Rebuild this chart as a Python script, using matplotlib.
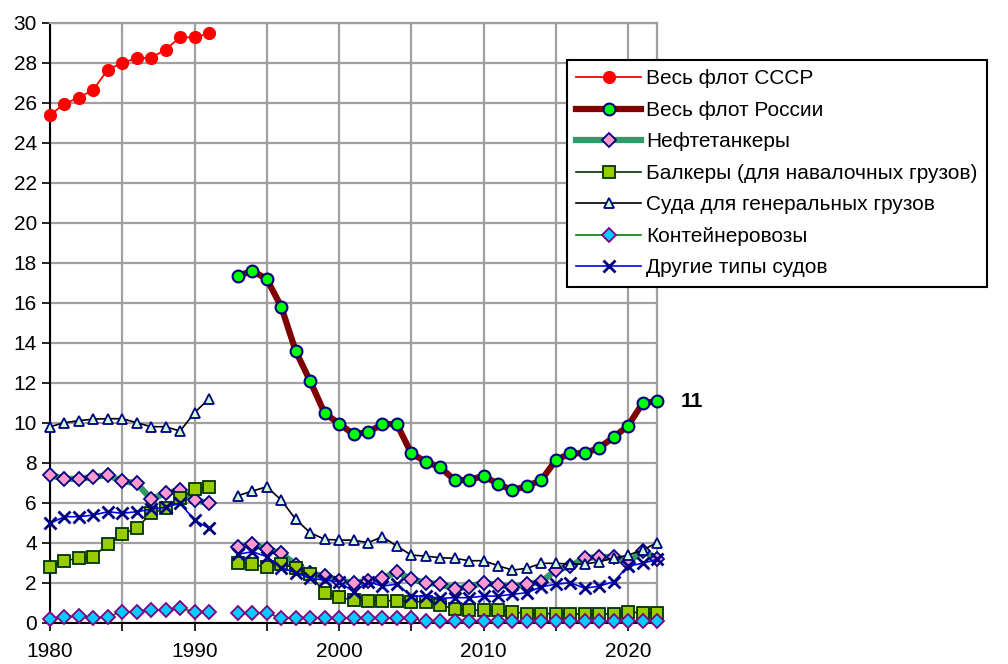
import numpy as np
import matplotlib
matplotlib.use('Agg')
import matplotlib.pyplot as plt
from matplotlib.ticker import MultipleLocator

plt.rcParams['font.family'] = ['Liberation Sans', 'DejaVu Sans']

nan = np.nan

years = list(range(1980, 2023))
years_ussr = list(range(1980, 1992))
years_russia = list(range(1993, 2023))

ussr_total = [25.37, 25.96, 26.25, 26.65, 27.66, 27.98, 28.24, 28.24, 28.66, 29.27, 29.27, 29.47]

russia_total = [17.33, 17.6, 17.18, 15.8, 13.58, 12.08, 10.48,
                9.95, 9.43, 9.52, 9.93, 9.93, 8.47, 8.05, 7.77, 7.13, 7.13,
                7.35, 6.93, 6.63, 6.83, 7.13, 8.13, 8.47, 8.47, 8.75, 9.27,
                9.85, 10.97, 11.08]

tankers = [7.37, 7.2, 7.18, 7.3, 7.37, 7.08, 6.97, 6.18, 6.47, 6.63, 6.13, 5.97,
           nan,
           3.8, 3.92, 3.68, 3.47, 2.9, 2.47, 2.33,
           2.1, 2.0, 2.08, 2.22, 2.55, 2.17, 2.0, 1.92, 1.7, 1.8,
           2.0, 1.88, 1.8, 1.92, 2.05, 2.63, 2.82, 3.25, 3.27, 3.3,
           3.0, 3.6, 3.2]

bulk = [2.8, 3.1, 3.22, 3.3, 3.93, 4.43, 4.73, 5.47, 5.72, 6.22, 6.67, 6.77,
        nan,
        3.0, 2.92, 2.77, 2.93, 2.72, 2.45, 1.47,
        1.27, 1.13, 1.1, 1.1, 1.1, 1.05, 1.05, 0.88, 0.7, 0.63,
        0.63, 0.63, 0.55, 0.45, 0.45, 0.45, 0.45, 0.43, 0.43, 0.45,
        0.55, 0.48, 0.48]

general = [9.8, 10.0, 10.1, 10.18, 10.2, 10.2, 10.0, 9.8, 9.8, 9.58, 10.5, 11.2,
           nan,
           6.35, 6.58, 6.8, 6.13, 5.17, 4.5, 4.17,
           4.13, 4.13, 4.0, 4.3, 3.83, 3.38, 3.33, 3.25, 3.22, 3.1,
           3.1, 2.85, 2.63, 2.72, 2.97, 2.97, 2.93, 2.93, 3.05, 3.22,
           3.38, 3.63, 4.0]

container = [0.17, 0.27, 0.35, 0.22, 0.3, 0.55, 0.55, 0.63, 0.63, 0.72, 0.55, 0.55,
             nan,
             0.47, 0.47, 0.47, 0.25, 0.25, 0.25, 0.25,
             0.23, 0.23, 0.23, 0.23, 0.23, 0.23, 0.07, 0.07, 0.07, 0.07,
             0.07, 0.07, 0.07, 0.07, 0.07, 0.07, 0.07, 0.07, 0.07, 0.07,
             0.1, 0.1, 0.1]

other = [4.97, 5.3, 5.3, 5.38, 5.55, 5.47, 5.55, 5.67, 5.77, 5.97, 5.13, 4.72,
         nan,
         3.42, 3.55, 3.3, 2.75, 2.5, 2.22, 2.13,
         2.05, 1.55, 2.05, 1.83, 1.93, 1.33, 1.33, 1.22, 1.25, 1.25,
         1.33, 1.33, 1.42, 1.5, 1.8, 1.92, 2.0, 1.72, 1.83, 2.05,
         2.83, 2.97, 3.17]

labels = ['Весь флот СССР', 'Весь флот России', 'Нефтетанкеры',
          'Балкеры (для навалочных грузов)', 'Суда для генеральных грузов',
          'Контейнеровозы', 'Другие типы судов']

fig = plt.figure(figsize=(10.08, 6.64), dpi=100)
ax = fig.add_axes([50 / 1008, 1 - 622.7 / 664, 607 / 1008, 600 / 664])

ax.plot(years_ussr, ussr_total, color='#FF0000', lw=1.3, marker='o', ms=8.5,
        mfc='#FF0000', mec='#FF0000', label=labels[0], clip_on=False, zorder=3)
ax.plot(years_russia, russia_total, color='#800000', lw=4.5, marker='o', ms=8.5,
        mfc='#00FF00', mec='#000080', mew=1.5, label=labels[1], clip_on=False, zorder=3)
ax.plot(years, tankers, color='#339966', lw=4.5, marker='D', ms=7.5,
        mfc='#FF99CC', mec='#000080', mew=1.3, label=labels[2], clip_on=False, zorder=3)
ax.plot(years, bulk, color='#003300', lw=1.2, marker='s', ms=8,
        mfc='#99CC00', mec='#003300', mew=1.3, label=labels[3], clip_on=False, zorder=3)
ax.plot(years, general, color='#000000', lw=1.2, marker='^', ms=7.5,
        mfc='#CCFFCC', mec='#000080', mew=1.3, label=labels[4], clip_on=False, zorder=3)
ax.plot(years, container, color='#008000', lw=1.2, marker='D', ms=7.5,
        mfc='#00CCFF', mec='#800080', mew=1.3, label=labels[5], clip_on=False, zorder=3)
ax.plot(years, other, color='#0000FF', lw=1.2, marker='x', ms=8,
        mec='#000080', mew=2, label=labels[6], clip_on=False, zorder=3)

ax.annotate('11', (years_russia[-1], russia_total[-1]), xytext=(35, 0),
            textcoords='offset pixels', ha='center', va='center',
            fontsize=15, fontweight='bold')

ax.set_xlim(1980, 2022)
ax.set_ylim(0, 30)
ax.xaxis.set_major_locator(MultipleLocator(10))
ax.xaxis.set_minor_locator(MultipleLocator(5))
ax.yaxis.set_major_locator(MultipleLocator(2))
ax.grid(True, which='both', color='#A0A0A0', lw=1.6, zorder=0)
ax.set_axisbelow(True)
ax.tick_params(axis='both', which='both', direction='out', length=6, width=1.2,
               labelsize=15, color='black')
ax.tick_params(axis='x', pad=8)
for side in ['top', 'right']:
    ax.spines[side].set_color('#A0A0A0')
    ax.spines[side].set_linewidth(1.6)
for side in ['left', 'bottom']:
    ax.spines[side].set_color('black')
    ax.spines[side].set_linewidth(1.5)

leg = fig.legend(loc='upper left', bbox_to_anchor=(567 / 1008, 1 - 60 / 664),
                 fontsize=15, frameon=True, fancybox=False, framealpha=1,
                 edgecolor='black', borderaxespad=0, handlelength=3.1,
                 labelspacing=0.6, numpoints=1, borderpad=0.45, handletextpad=0.25)
leg.get_frame().set_linewidth(1.5)

fig.savefig('out.png', dpi=100)
